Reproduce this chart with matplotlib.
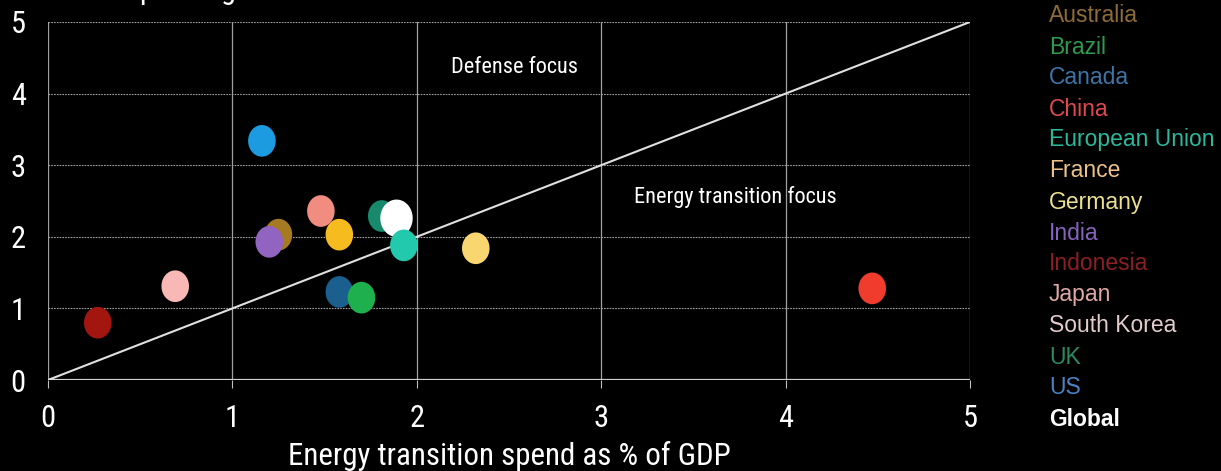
import matplotlib
matplotlib.use("Agg")
import matplotlib.pyplot as plt
import numpy as np
from matplotlib.path import Path
from matplotlib.markers import MarkerStyle
from matplotlib import font_manager as fm

# ---- data ----
countries = ["Australia", "Brazil", "Canada", "China", "European Union", "France",
             "Germany", "India", "Indonesia", "Japan", "South Korea", "UK", "US", "Global"]
energy_spend = [1.25, 1.70, 1.58, 4.47, 1.93, 1.58, 2.32, 1.20, 0.27, 1.48, 0.69, 1.81, 1.16, 1.89]
defense_spend = [2.03, 1.15, 1.23, 1.28, 1.88, 2.03, 1.84, 1.93, 0.80, 2.36, 1.31, 2.29, 3.34, 2.26]
point_colors = ["#a57a22", "#1fb04e", "#1b5f8e", "#f03c2c", "#22c9ad", "#f6bb1e",
                "#f9d670", "#9264c2", "#a3160f", "#f08c80", "#f8b9b6", "#178a6c", "#1c9be0", "#ffffff"]
label_colors = ["#8f6c36", "#2e9a4c", "#3f74a8", "#de4a50", "#2cb89c", "#eec287",
                "#ece08e", "#8763c0", "#8c1f22", "#e0a8a4", "#e4cccc", "#2b8a5e", "#4a82c4", "#ffffff"]
draw_order = ["Australia", "Canada", "Brazil", "China", "UK", "Global", "European Union",
              "France", "Germany", "India", "Indonesia", "Japan", "South Korea", "US"]
ticks = [0, 1, 2, 3, 4, 5]
x_label = "Energy transition spend as % of GDP"
y_label = "Defense spending as % of GDP"

# pick a condensed font if available
names = {f.name for f in fm.fontManager.ttflist}
narrow_kw = None
for cand in ["Liberation Sans Narrow", "Roboto Condensed", "Open Sans Condensed"]:
    if cand in names:
        narrow_kw = dict(family=cand)
        break
if narrow_kw is None:
    cond = [f for f in fm.fontManager.ttflist if f.name == "DejaVu Sans" and
            (str(f.stretch) in ("condensed", "semi-condensed") or
             (isinstance(f.stretch, int) and f.stretch < 500))]
    if cond:
        narrow_kw = dict(fname=cond[0].fname)
narrow_is_real = narrow_kw is not None
if narrow_kw is None:
    narrow_kw = dict(family="Liberation Sans")


def nfont(size):
    kw = dict(narrow_kw)
    if "fname" in kw:
        return fm.FontProperties(fname=kw["fname"], size=size)
    return fm.FontProperties(family=kw["family"], size=size)


scale = 1.0 if narrow_is_real else 0.85
reg = "Liberation Sans"

fig = plt.figure(figsize=(12.21, 4.71), dpi=100, facecolor="black")
ax = fig.add_axes([0.0393, 0.1932, 0.7551, 0.7601], facecolor="black")

ax.set_xlim(0, 5)
ax.set_ylim(0, 5)

# grid
for t in ticks:
    ax.axvline(t, color="#a0a0a0", lw=0.9, zorder=1)
    if t > 0:
        ax.axhline(t, color="#a0a0a0", lw=0.8, ls=(0, (1.5, 1.0)), zorder=1)
for s in ax.spines.values():
    s.set_visible(False)
ax.axhline(0, color="#d0d0d0", lw=1.6, zorder=2)

# diagonal
ax.plot([0, 5], [0, 5], color="#e0e0e0", lw=1.5, zorder=3)

# ellipse marker
th = np.linspace(0, 2 * np.pi, 60)
ell = Path(np.column_stack([0.87 * np.cos(th), np.sin(th)]), closed=True)
mk = MarkerStyle(ell)

for z, name in enumerate(draw_order):
    i = countries.index(name)
    size = 720 if name == "Global" else 520
    ax.scatter([energy_spend[i]], [defense_spend[i]], s=size, marker=mk,
               color=point_colors[i], edgecolors="none", zorder=5 + z)

ax.text(2.53, 4.36, "Defense focus", color="white", fontproperties=nfont(16 * scale),
        ha="center", va="center", zorder=30)
ax.text(3.73, 2.56, "Energy transition focus", color="white", fontproperties=nfont(16 * scale),
        ha="center", va="center", zorder=30)

ax.set_xticks(ticks)
ax.set_yticks(ticks)
ax.set_xticklabels([str(t) for t in ticks], fontproperties=nfont(22), color="white")
ax.set_yticklabels([str(t) for t in ticks], fontproperties=nfont(22), color="white")
ax.tick_params(axis="x", length=6, width=0.8, color="#c0c0c0", pad=11)
ax.tick_params(axis="y", length=0, pad=16)
ax.set_xlabel(x_label, fontproperties=nfont(22.3 * scale), color="white", va="center")
ax.xaxis.set_label_coords(0.5, -0.212)

# partially visible y-axis title at top edge
fig.text(20 / 1221, 1.003, y_label, fontproperties=nfont(22 * scale), color="white",
         ha="left", va="baseline")

# legend as coloured text
for k, name in enumerate(countries):
    y = 1 - (16 + k * 31.0) / 471
    fig.text(1049 / 1221, y, name, color=label_colors[k], fontsize=16.5, family=reg,
             ha="left", va="center", fontweight="bold" if name == "Global" else "normal")

fig.savefig("out.png", dpi=100, facecolor="black")
